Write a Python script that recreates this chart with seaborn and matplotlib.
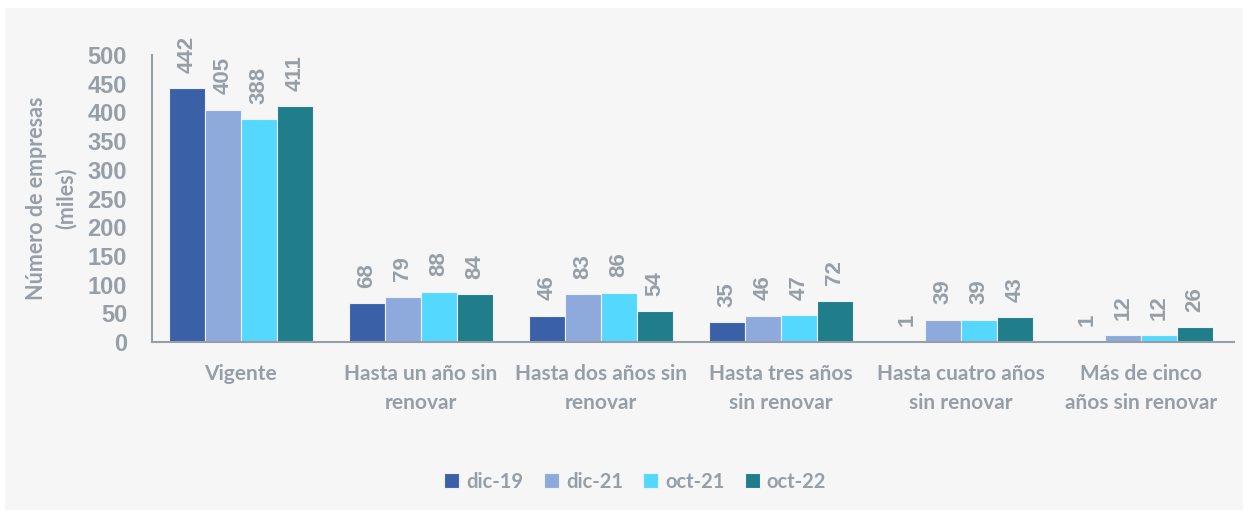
import pandas as pd
import matplotlib.pyplot as plt
import seaborn as sns
from matplotlib.patches import Rectangle

#%%
# datos (miles de empresas)

categorias = ['Vigente', 'Hasta un año sin\nrenovar', 'Hasta dos años sin\nrenovar',
              'Hasta tres años\nsin renovar', 'Hasta cuatro años\nsin renovar',
              'Más de cinco\naños sin renovar']
periodos = ['dic-19', 'dic-21', 'oct-21', 'oct-22']
dic19 = [442, 68, 46, 35, 1, 1]
dic21 = [405, 79, 83, 46, 39, 12]
oct21 = [388, 88, 86, 47, 39, 12]
oct22 = [411, 84, 54, 72, 43, 26]
colores = ['#3a60a8', '#8eaadc', '#55d8fe', '#207d8a']

gris = '#969ea7'
num_font = ['Liberation Sans', 'DejaVu Sans']

#%%

df = pd.DataFrame({'categoria': categorias * 4,
                   'periodo': [p for p in periodos for _ in categorias],
                   'valor': dic19 + dic21 + oct21 + oct22})

sns.set_style('white')
plt.rcParams['font.family'] = ['Lato', 'DejaVu Sans']
plt.rcParams['font.weight'] = 'bold'

fig = plt.figure(figsize=(12.48, 5.14), dpi=100, facecolor='white')
fig.patches.append(Rectangle((5 / 1248, 4 / 514), 1238 / 1248, 502 / 514,
                             transform=fig.transFigure, facecolor='#f6f6f6',
                             edgecolor='none', zorder=-10))
ax = fig.add_axes([0.1218, 0.3346, 0.867, 0.5584])
ax.set_facecolor('none')

sns.barplot(data=df, x='categoria', y='valor', hue='periodo', palette=colores,
            saturation=1, width=0.8, edgecolor='#eef2f7', linewidth=0.8, ax=ax)

for cont in ax.containers:
    ax.bar_label(cont, labels=[f'{v:.0f}' for v in cont.datavalues], rotation=90,
                 padding=11, color=gris, fontsize=16, fontweight='bold',
                 family=num_font)

ax.set_ylim(0, 500)
ax.set_yticks(range(0, 501, 50))
ax.set_xlim(-0.494, 5.517)
ax.set_xlabel('')
ax.set_ylabel('Número de empresas\n(miles)', color=gris, fontsize=15.5,
              fontweight='bold', labelpad=8, linespacing=1.45)

for s in ['top', 'right']:
    ax.spines[s].set_visible(False)
for s in ['left', 'bottom']:
    ax.spines[s].set_color(gris)
    ax.spines[s].set_linewidth(1.5)

ax.tick_params(axis='y', direction='in', length=6, width=1.5, color=gris,
               labelcolor=gris, labelsize=17, pad=18)
ax.tick_params(axis='x', length=0, labelcolor=gris, labelsize=15, pad=16)
for t in ax.get_yticklabels():
    t.set_family(num_font)
    t.set_fontweight('bold')
for t in ax.get_xticklabels():
    t.set_fontweight('bold')
    t.set_linespacing(1.55)

handles, labels = ax.get_legend_handles_labels()
ax.legend_.remove()
leg = fig.legend(handles, labels, loc='center', bbox_to_anchor=(0.509, 0.063),
                 ncol=4, frameon=False, fontsize=14.5, handlelength=0.75,
                 handleheight=0.75, handletextpad=0.35, columnspacing=1.0)
for t in leg.get_texts():
    t.set_color(gris)
    t.set_fontweight('bold')

fig.savefig('out.png', dpi=100, facecolor='white')
